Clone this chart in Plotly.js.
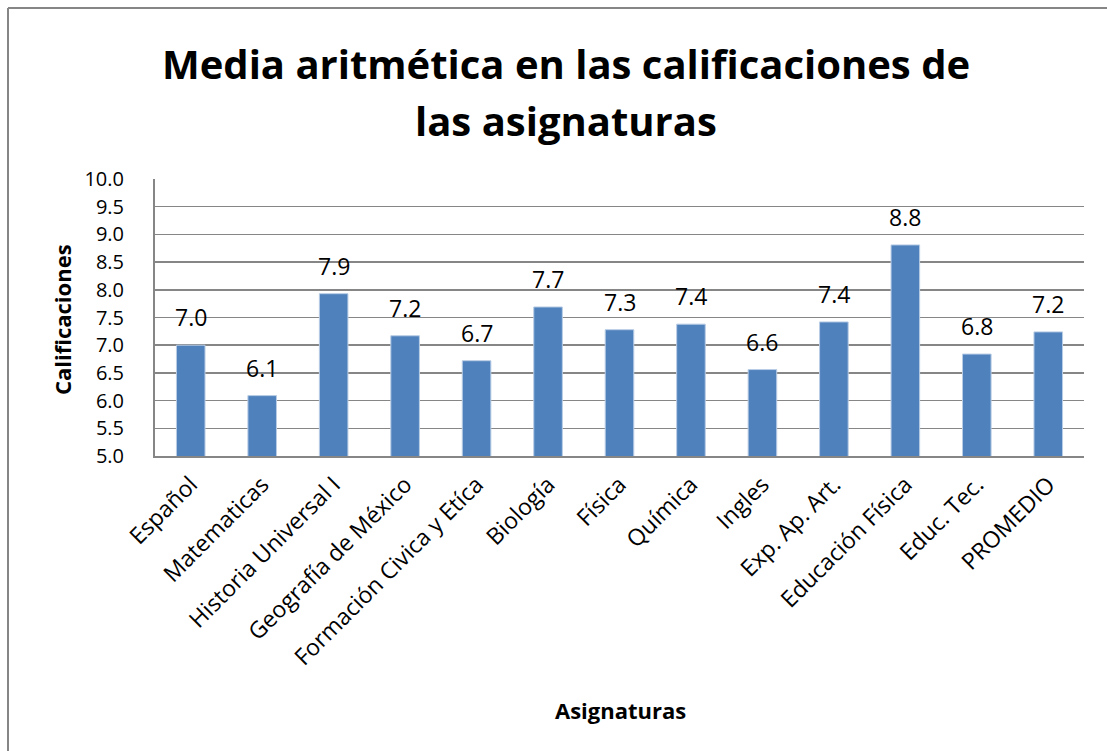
<!DOCTYPE html>
<html>
<head>
<meta charset="utf-8">
<script src="https://cdn.plot.ly/plotly-3.0.1.min.js"></script>
<style>
html,body{margin:0;padding:0;background:#fff;}
#chart{width:1107px;height:751px;}
</style>
</head>
<body>
<div id="chart"></div>
<script>
const categories = ["Español","Matematicas","Historia Universal I","Geografía de México","Formación Civica y Etíca","Biología","Física","Química","Ingles","Exp. Ap. Art.","Educación Física","Educ. Tec.","PROMEDIO"];
const values = [7.0, 6.09, 7.93, 7.17, 6.72, 7.69, 7.28, 7.38, 6.56, 7.42, 8.81, 6.84, 7.24];
const yTickVals = [5.0,5.5,6.0,6.5,7.0,7.5,8.0,8.5,9.0,9.5,10.0];
const titleLines = ["Media aritmética en las calificaciones de", "las asignaturas"];
const xTitle = "Asignaturas";
const yTitle = "Calificaciones";

const FONT = "'Open Sans', 'Liberation Sans', sans-serif";

// plot area in pixels: x 155..1084, y 179..456
const PL = 155, PR = 1084, PT = 179, PB = 456;
const px2x = p => (p - PL) / (PR - PL);
const px2y = p => (PB - p) / (PB - PT);

const trace = {
  type: 'bar',
  x: categories,
  y: values,
  marker: {color: '#4F81BD', line: {color: '#B9CDE5', width: 1}},
  hoverinfo: 'x+y'
};

const valueLabels = categories.map((c, i) => ({
  x: c, y: values[i], xref: 'x', yref: 'y',
  text: values[i].toFixed(1), showarrow: false,
  yanchor: 'bottom', yshift: 10,
  font: {family: FONT, size: 23, color: '#000'}
}));

const textAnn = [
  {text: titleLines[0], x: px2x(566), y: px2y(63), xref: 'paper', yref: 'paper', xanchor: 'center', yanchor: 'middle', showarrow: false,
   font: {family: FONT, size: 40, color: '#000', weight: 'bold'}},
  {text: titleLines[1], x: px2x(566), y: px2y(120), xref: 'paper', yref: 'paper', xanchor: 'center', yanchor: 'middle', showarrow: false,
   font: {family: FONT, size: 40, color: '#000', weight: 'bold'}},
  {text: xTitle, x: px2x(620), y: px2y(710), xref: 'paper', yref: 'paper', xanchor: 'center', yanchor: 'middle', showarrow: false,
   font: {family: FONT, size: 22, color: '#000', weight: 'bold'}},
  {text: yTitle, x: px2x(62), y: px2y(320), xref: 'paper', yref: 'paper', xanchor: 'center', yanchor: 'middle', showarrow: false, textangle: -90,
   font: {family: FONT, size: 22, color: '#000', weight: 'bold'}}
];

const layout = {
  width: 1107, height: 751,
  margin: {l: PL, r: 1107 - PR, t: PT, b: 751 - PB},
  paper_bgcolor: '#fff', plot_bgcolor: '#fff',
  bargap: 0.6,
  showlegend: false,
  xaxis: {
    type: 'category',
    tickangle: -45,
    tickfont: {family: FONT, size: 23, color: '#000'},
    showline: true, linecolor: '#868686', linewidth: 2,
    ticks: '', showgrid: false, ticklabelstandoff: 4
  },
  yaxis: {
    range: [5, 10],
    tickvals: yTickVals,
    ticktext: yTickVals.map(v => v.toFixed(1)),
    tickfont: {family: FONT, size: 20, color: '#000'},
    showline: true, linecolor: '#868686', linewidth: 2,
    showgrid: true, gridcolor: '#868686', gridwidth: 1.5,
    zeroline: false, ticks: '', ticklabelstandoff: 25
  },
  annotations: valueLabels.concat(textAnn),
  shapes: [
    {type: 'line', xref: 'paper', yref: 'paper', x0: px2x(8), x1: px2x(1120), y0: px2y(8), y1: px2y(8), line: {color: '#868686', width: 2}},
    {type: 'line', xref: 'paper', yref: 'paper', x0: px2x(8), x1: px2x(8), y0: px2y(8), y1: px2y(770), line: {color: '#868686', width: 2}}
  ]
};

Plotly.newPlot('chart', [trace], layout, {displayModeBar: false, staticPlot: true});
</script>
</body>
</html>
